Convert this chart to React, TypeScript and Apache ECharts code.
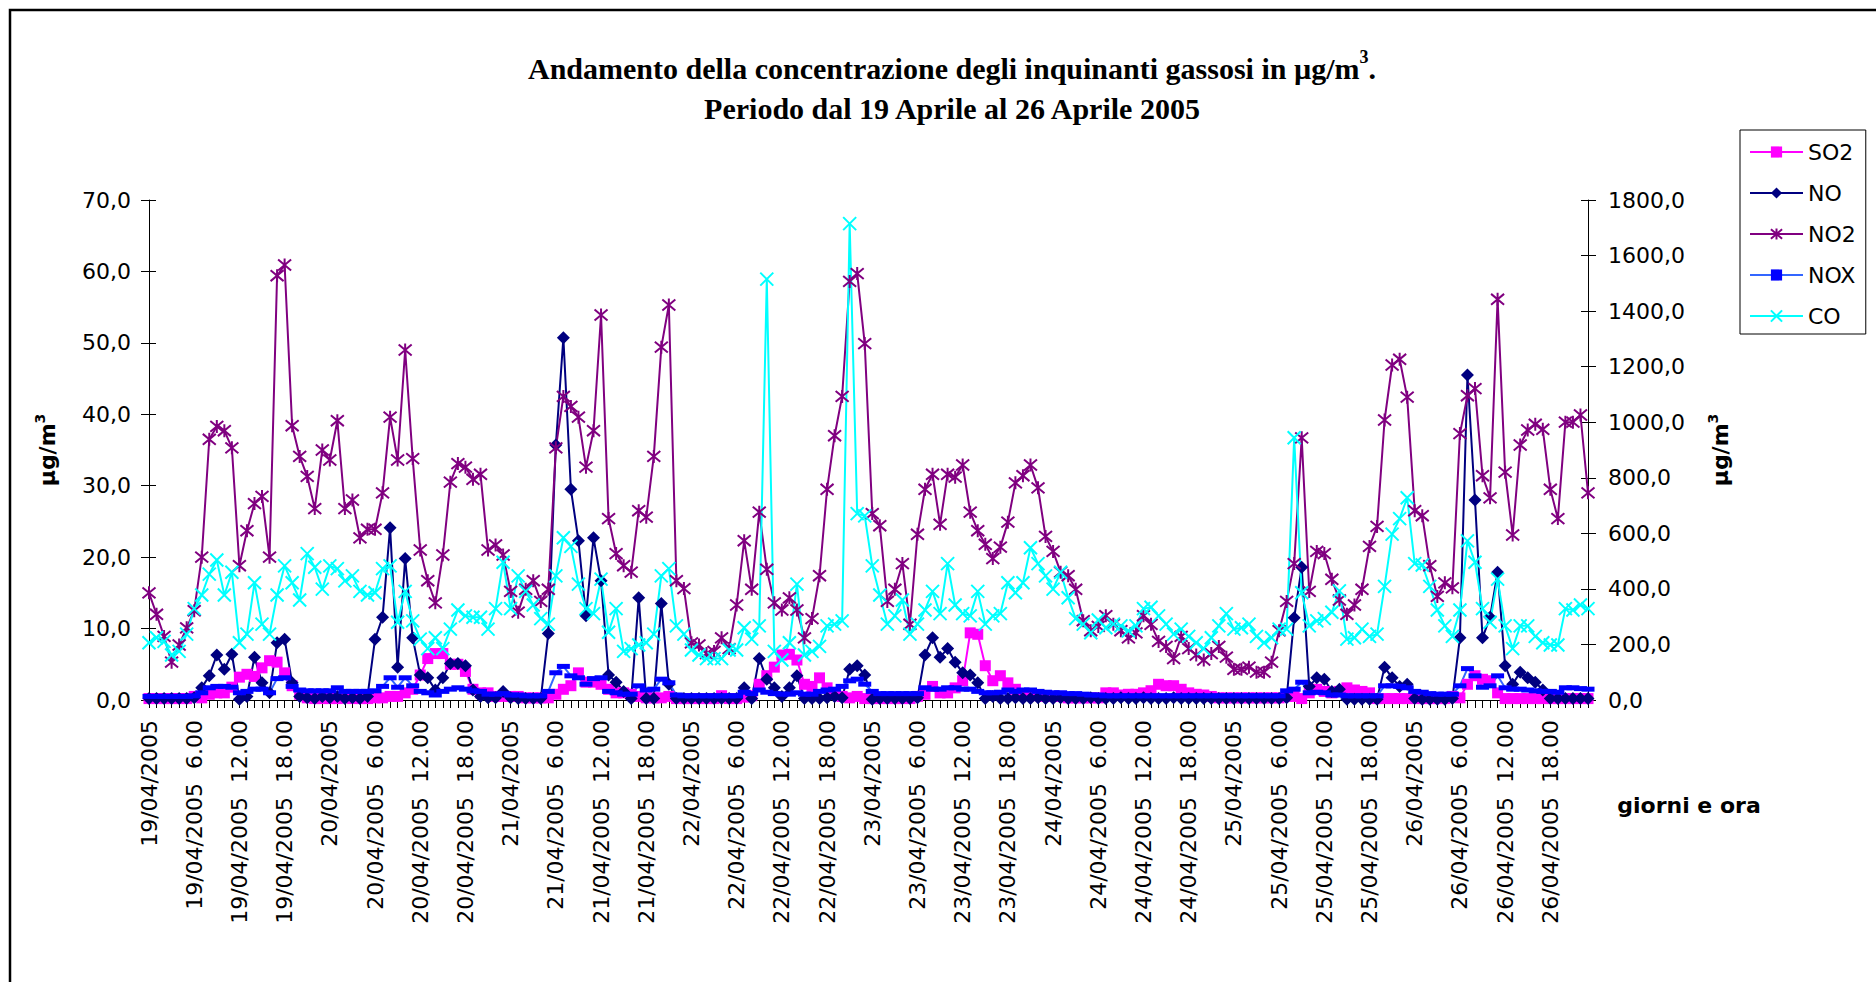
import React, { useEffect, useRef } from 'react';
import * as echarts from 'echarts';

// ---- categories (hourly, 19/04/2005 00.00 ... 26/04/2005 23.00)
const DAYS = ['19/04/2005', '20/04/2005', '21/04/2005', '22/04/2005', '23/04/2005', '24/04/2005', '25/04/2005', '26/04/2005'];
const HOURS = ['0', '1', '2', '3', '4', '5', '6', '7', '8', '9', '10', '11', '12', '13', '14', '15', '16', '17', '18', '19', '20', '21', '22', '23'];
const CATEGORIES: string[] = [];
DAYS.forEach((d) => HOURS.forEach((h) => CATEGORIES.push(d + ' ' + h + '.00')));

// ---- left axis series (µg/m3, 0-70)
const SO2 = [
  0.2, 0.2, 0.2, 0.2, 0.2, 0.2, 0.5, 0.3, 0.8, 1.0, 1.0, 1.8, 3.2, 3.6, 3.3, 4.5, 5.5, 5.3, 3.8, 2.0, 0.8, 0.3, 0.2, 0.2, 0.2, 0.2, 0.3, 0.2, 0.2, 0.2, 0.3,
  0.3, 0.5, 0.5, 1.0, 1.5, 3.5, 5.8, 6.5, 6.5, 5.0, 5.0, 4.0, 1.5, 1.0, 1.0, 0.5, 0.5, 0.5, 0.5, 0.3, 0.3, 0.3, 0.3, 0.8, 1.5, 2.0, 3.8, 2.5, 2.5, 2.2, 1.5, 1.0,
  1.0, 0.8, 0.5, 0.3, 0.3, 0.3, 0.5, 0.2, 0.2, 0.2, 0.2, 0.2, 0.2, 0.6, 0.2, 0.2, 0.4, 0.6, 2.2, 3.4, 4.6, 6.3, 6.4, 5.6, 2.2, 1.9, 3.1, 1.7, 1.0, 0.5, 0.3, 0.5,
  0.2, 0.2, 0.2, 0.2, 0.2, 0.2, 0.2, 0.5, 0.8, 1.9, 1.0, 1.0, 1.7, 2.7, 9.4, 9.2, 4.8, 2.7, 3.4, 2.4, 1.5, 0.8, 0.8, 0.6, 0.5, 0.5, 0.5, 0.3, 0.3, 0.3, 0.3, 0.3,
  1.0, 1.0, 0.7, 0.8, 0.8, 1.0, 1.3, 2.2, 2.0, 2.0, 1.5, 1.0, 0.8, 0.7, 0.5, 0.3, 0.3, 0.3, 0.3, 0.3, 0.3, 0.3, 0.3, 0.3, 0.5, 0.5, 0.2, 1.0, 1.5, 1.2, 1.0, 1.2,
  1.7, 1.4, 1.2, 1.0, 0.2, 0.2, 0.2, 0.2, 0.2, 0.2, 0.2, 0.2, 0.2, 0.2, 0.5, 0.3, 2.2, 3.4, 2.9, 2.7, 1.0, 0.2, 0.2, 0.2, 0.2, 0.2, 0.2, 0.2, 0.2, 0.2, 0.2, 0.2, 0.2,
];

const NO = [
  0.2, 0.2, 0.2, 0.2, 0.2, 0.2, 0.3, 1.7, 3.4, 6.3, 4.3, 6.4, 0.1, 0.5, 6.0, 2.4, 1.0, 8.0, 8.5, 2.4, 0.5, 0.3, 0.2, 0.5, 0.3, 0.5, 0.2, 0.3, 0.2, 0.5, 8.5,
  11.6, 24.1, 4.6, 19.8, 8.7, 3.5, 3.1, 1.4, 3.1, 5.1, 5.1, 4.8, 1.4, 0.5, 0.3, 0.3, 1.2, 0.3, 0.2, 0.2, 0.2, 0.2, 9.3, 35.7, 50.7, 29.5, 22.3, 11.8, 22.7, 16.7, 3.5, 2.5,
  1.2, 0.2, 14.3, 0.2, 0.2, 13.5, 2.2, 0.2, 0.2, 0.2, 0.2, 0.2, 0.2, 0.2, 0.2, 0.2, 1.7, 0.2, 5.8, 2.9, 1.7, 0.5, 1.7, 3.4, 0.2, 0.2, 0.2, 0.3, 0.5, 0.3, 4.3, 4.8,
  3.5, 0.1, 0.2, 0.2, 0.2, 0.2, 0.2, 0.3, 6.3, 8.7, 6.0, 7.2, 5.3, 3.8, 3.5, 2.4, 0.2, 0.5, 0.2, 0.2, 0.3, 0.2, 0.2, 0.3, 0.2, 0.2, 0.3, 0.2, 0.2, 0.2, 0.3, 0.2,
  0.2, 0.2, 0.3, 0.2, 0.2, 0.3, 0.2, 0.2, 0.2, 0.3, 0.2, 0.2, 0.2, 0.2, 0.2, 0.2, 0.2, 0.2, 0.2, 0.2, 0.2, 0.2, 0.2, 0.2, 0.3, 11.5, 18.6, 1.9, 3.1, 2.9, 1.2, 1.5,
  0.1, 0.1, 0.1, 0.1, 0.1, 4.6, 3.1, 1.9, 2.2, 0.2, 0.1, 0.1, 0.1, 0.1, 0.2, 8.7, 45.5, 28.0, 8.7, 11.6, 17.9, 4.8, 2.2, 3.9, 3.1, 2.5, 1.4, 0.2, 0.2, 0.2, 0.2, 0.2, 0.2,
];

const NO2 = [
  15.0, 12.0, 8.9, 5.3, 7.7, 10.1, 12.5, 20.0, 36.5, 38.3, 37.7, 35.3, 18.8, 23.7, 27.5, 28.5, 20.0, 59.4, 60.9, 38.4, 34.1, 31.3, 26.8, 35.0, 33.6, 39.1, 26.8, 28.0, 22.7, 23.9, 23.9,
  29.0, 39.6, 33.6, 49.0, 33.8, 21.0, 16.7, 13.6, 20.3, 30.5, 33.1, 32.6, 30.9, 31.6, 21.0, 21.7, 20.3, 15.2, 12.3, 15.5, 16.7, 13.8, 15.5, 35.3, 42.5, 41.1, 39.6, 32.6, 37.7, 53.9, 25.4, 20.5,
  18.8, 17.9, 26.5, 25.6, 34.1, 49.4, 55.3, 16.7, 15.6, 8.0, 7.7, 6.5, 6.8, 8.7, 7.2, 13.3, 22.3, 15.5, 26.3, 18.3, 13.6, 12.6, 14.3, 12.6, 8.7, 11.4, 17.4, 29.5, 37.0, 42.5, 58.6, 59.7,
  49.9, 26.1, 24.4, 13.8, 15.5, 19.1, 10.6, 23.2, 29.5, 31.6, 24.6, 31.6, 31.2, 32.9, 26.3, 23.7, 21.8, 19.8, 21.4, 24.9, 30.4, 31.4, 32.9, 29.7, 22.9, 20.8, 17.9, 17.4, 15.5, 11.1, 9.7, 10.3,
  11.8, 10.6, 9.7, 8.7, 9.4, 11.8, 10.6, 8.2, 7.5, 5.8, 8.9, 7.2, 6.3, 5.6, 6.5, 7.5, 6.0, 4.3, 4.3, 4.6, 3.9, 3.9, 5.3, 9.7, 13.8, 19.1, 36.7, 15.2, 20.8, 20.5, 16.9, 14.0,
  12.0, 13.3, 15.5, 21.5, 24.3, 39.2, 46.9, 47.7, 42.4, 26.5, 25.8, 18.8, 14.5, 16.4, 15.7, 37.3, 42.6, 43.6, 31.4, 28.3, 56.1, 31.9, 23.1, 35.7, 37.8, 38.6, 37.9, 29.5, 25.4, 38.9, 38.9, 39.9, 29.0,
];

// ---- right axis series (µg/m3, 0-1800)
const NOX = [
  13, 13, 13, 13, 13, 13, 15, 26, 44, 49, 49, 46, 26, 31, 39, 39, 26, 77, 80, 49, 36, 33, 33, 33, 33, 44, 31, 31, 31, 31, 33,
  49, 80, 46, 80, 51, 31, 26, 18, 31, 39, 44, 39, 33, 31, 21, 21, 23, 18, 18, 15, 15, 15, 31, 98, 121, 87, 80, 57, 77, 80, 31, 26,
  21, 21, 51, 36, 39, 75, 62, 18, 15, 15, 15, 15, 15, 15, 15, 15, 28, 23, 36, 28, 23, 21, 21, 26, 21, 21, 31, 36, 39, 49, 69, 75,
  57, 31, 23, 23, 23, 23, 23, 23, 44, 39, 39, 44, 44, 39, 39, 31, 26, 26, 28, 36, 31, 36, 36, 31, 28, 26, 26, 23, 23, 21, 18, 18,
  15, 15, 15, 15, 15, 15, 15, 15, 15, 15, 15, 15, 15, 15, 15, 15, 15, 15, 15, 15, 15, 15, 15, 15, 33, 39, 64, 26, 28, 26, 18, 18,
  15, 15, 15, 15, 15, 51, 51, 49, 44, 31, 28, 23, 21, 21, 21, 51, 113, 87, 46, 51, 87, 44, 39, 39, 36, 33, 31, 31, 28, 44, 44, 41, 39,
];

const CO = [
  206, 224, 211, 162, 175, 237, 329, 378, 453, 504, 378, 460, 206, 237, 422, 273, 237, 378, 483, 422, 360, 527, 478, 399, 483, 473, 429, 447, 391, 378, 386,
  473, 483, 280, 391, 285, 219, 185, 224, 185, 255, 324, 303, 298, 298, 255, 329, 496, 329, 447, 391, 342, 293, 273, 447, 584, 553, 417, 329, 311, 435, 244, 329,
  175, 185, 198, 206, 237, 447, 473, 267, 237, 180, 162, 149, 149, 149, 180, 180, 260, 219, 267, 1515, 175, 144, 206, 417, 162, 175, 193, 267, 273, 285, 1715, 671,
  663, 483, 378, 273, 303, 360, 237, 273, 324, 391, 311, 491, 342, 311, 303, 391, 273, 303, 311, 422, 386, 422, 548, 491, 447, 399, 460, 368, 293, 273, 242, 288,
  260, 273, 267, 249, 267, 329, 334, 303, 273, 237, 255, 229, 206, 185, 224, 267, 311, 255, 260, 273, 229, 206, 224, 255, 255, 944, 386, 267, 285, 293, 316, 393,
  219, 224, 255, 229, 237, 409, 597, 653, 728, 491, 486, 409, 324, 267, 229, 324, 573, 496, 329, 280, 435, 267, 185, 267, 267, 229, 206, 198, 198, 329, 324, 342, 329,
];

const SANS = 'DejaVu Sans';
const SERIF = 'Liberation Serif';
const STAR = 'path://M0,0L10,10M10,0L0,10M5,-1L5,11';
const XMARK = 'path://M0,0L10,10M10,0L0,10';

const comma = (v: number) => v.toFixed(1).replace('.', ',');

export default function App() {
  const ref = useRef<HTMLDivElement>(null);

  useEffect(() => {
    if (!ref.current) return;
    const chart = echarts.init(ref.current, undefined, { renderer: 'svg' });

    const unitName = () => ({
      a: { fontFamily: SANS, fontWeight: 'bold', fontSize: 22, color: '#000', lineHeight: 28 },
      b: { fontFamily: SANS, fontWeight: 'bold', fontSize: 14, color: '#000', lineHeight: 14, verticalAlign: 'top' },
    });

    const valueAxisBase = {
      type: 'value',
      splitLine: { show: false },
      axisLine: { show: true, lineStyle: { color: '#000', width: 1 } },
      axisTick: { show: true, length: 8, lineStyle: { color: '#000' } },
    };

    const option: any = {
      animation: false,
      backgroundColor: '#fff',
      graphic: [
        {
          type: 'rect',
          shape: { x: 10, y: 10, width: 1900, height: 1000 },
          style: { fill: 'none', stroke: '#000', lineWidth: 2.5 },
          silent: true,
        },
        {
          type: 'text',
          x: 952,
          y: 48,
          style: {
            text: '{t|Andamento della concentrazione degli inquinanti gassosi in µg/m}{s|3}{t|.}\n{t|Periodo dal 19 Aprile al 26 Aprile 2005}',
            align: 'center',
            verticalAlign: 'top',
            rich: {
              t: { fontFamily: SERIF, fontWeight: 'bold', fontSize: 30, lineHeight: 40, fill: '#000' },
              s: { fontFamily: SERIF, fontWeight: 'bold', fontSize: 18, lineHeight: 22, fill: '#000', verticalAlign: 'top' },
            },
          },
        },
        {
          type: 'text',
          x: 1689,
          y: 805,
          style: {
            text: 'giorni e ora',
            align: 'center',
            verticalAlign: 'middle',
            fontFamily: SANS,
            fontWeight: 'bold',
            fontSize: 22,
            fill: '#000',
          },
        },
      ],
      legend: {
        orient: 'vertical',
        left: 1740,
        top: 130,
        itemWidth: 53,
        itemHeight: 14,
        itemGap: 19,
        padding: [11, 10, 7, 9],
        borderColor: '#000',
        borderWidth: 1,
        textStyle: { fontFamily: SANS, fontSize: 22, color: '#000' },
        data: ['SO2', 'NO', 'NO2', 'NOX', 'CO'],
      },
      grid: { left: 149, right: 288, top: 200, bottom: 282 },
      xAxis: {
        type: 'category',
        data: CATEGORIES,
        boundaryGap: false,
        axisLine: { show: true, lineStyle: { color: '#000', width: 1 } },
        axisTick: { show: true, interval: 0, length: 8, lineStyle: { color: '#000' } },
        axisLabel: {
          interval: 5,
          rotate: 90,
          margin: 20,
          fontFamily: SANS,
          fontSize: 22,
          color: '#000',
          formatter: (val: string) => {
            const [d, t] = val.split(' ');
            return t === '0.00' ? d : d + '\u00a0\u00a0' + t;
          },
        },
      },
      yAxis: [
        {
          ...valueAxisBase,
          position: 'left',
          min: 0,
          max: 70,
          interval: 10,
          axisLabel: { formatter: comma, fontFamily: SANS, fontSize: 22, color: '#000', margin: 18 },
          name: '{a|µg/m}{b|3}',
          nameLocation: 'middle',
          nameRotate: 90,
          nameGap: 88,
          nameTextStyle: { rich: unitName() },
        },
        {
          ...valueAxisBase,
          position: 'right',
          min: 0,
          max: 1800,
          interval: 200,
          axisLabel: { formatter: comma, fontFamily: SANS, fontSize: 22, color: '#000', margin: 20 },
          name: '{a|µg/m}{b|3}',
          nameLocation: 'middle',
          nameRotate: 90,
          nameGap: 118,
          nameTextStyle: { rich: unitName() },
        },
        {
          type: 'value',
          position: 'left',
          min: 0,
          max: 70,
          interval: 10,
          splitLine: { show: false },
          axisLine: { show: false },
          axisLabel: { show: false },
          axisTick: { show: true, inside: true, length: 7, lineStyle: { color: '#000' } },
        },
        {
          type: 'value',
          position: 'right',
          min: 0,
          max: 1800,
          interval: 200,
          splitLine: { show: false },
          axisLine: { show: false },
          axisLabel: { show: false },
          axisTick: { show: true, inside: true, length: 7, lineStyle: { color: '#000' } },
        },
      ],
      series: [
        {
          name: 'SO2',
          type: 'line',
          yAxisIndex: 0,
          data: SO2,
          symbol: 'rect',
          symbolSize: 11,
          showAllSymbol: true,
          lineStyle: { color: '#FF00FF', width: 2 },
          itemStyle: { color: '#FF00FF' },
        },
        {
          name: 'NO',
          type: 'line',
          yAxisIndex: 0,
          data: NO,
          symbol: 'diamond',
          symbolSize: 13,
          showAllSymbol: true,
          lineStyle: { color: '#000080', width: 2 },
          itemStyle: { color: '#000080' },
        },
        {
          name: 'NO2',
          type: 'line',
          yAxisIndex: 0,
          data: NO2,
          symbol: STAR,
          symbolSize: 13,
          showAllSymbol: true,
          lineStyle: { color: '#800080', width: 2 },
          itemStyle: { color: '#800080', borderColor: '#800080', borderWidth: 2 },
        },
        {
          name: 'NOX',
          type: 'line',
          yAxisIndex: 1,
          data: NOX,
          symbol: 'rect',
          symbolSize: [13, 5],
          showAllSymbol: true,
          lineStyle: { color: '#3366FF', width: 2 },
          itemStyle: { color: '#0000FF' },
        },
        {
          name: 'CO',
          type: 'line',
          yAxisIndex: 1,
          data: CO,
          symbol: XMARK,
          symbolSize: 13,
          showAllSymbol: true,
          lineStyle: { color: '#00FFFF', width: 2 },
          itemStyle: { color: '#00FFFF', borderColor: '#00FFFF', borderWidth: 2 },
        },
      ],
    };

    chart.setOption(option);
    return () => chart.dispose();
  }, []);

  return (
    <div
      ref={ref}
      style={{ position: 'absolute', left: 0, top: 0, width: 1876, height: 982, background: '#fff' }}
    />
  );
}
